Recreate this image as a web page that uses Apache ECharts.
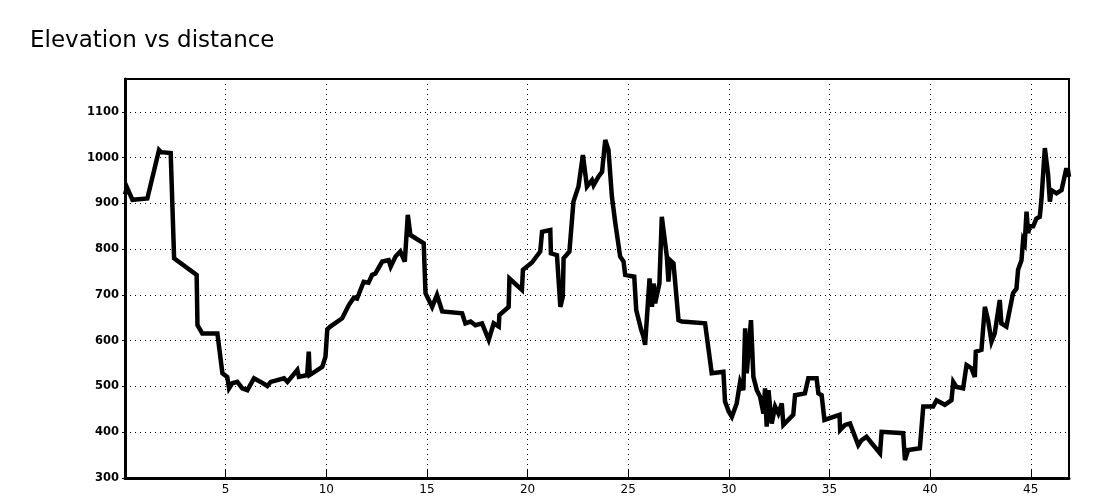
<!DOCTYPE html>
<html>
<head>
<meta charset="utf-8">
<script src="https://cdn.jsdelivr.net/npm/echarts@6/dist/echarts.min.js"></script>
<style>html,body{margin:0;padding:0;background:#fff}#c{width:1100px;height:500px}</style>
</head>
<body>
<div id="c"></div>
<script>
var title = 'Elevation vs distance';
var dist = [
  0, 0.1, 0.37, 1.11, 1.69, 1.8, 2.27, 2.44, 2.5, 3.56,
  3.6, 3.84, 4.59, 4.84, 5.08, 5.17, 5.33, 5.58, 5.83, 6.08,
  6.41, 6.74, 7.07, 7.24, 7.9, 8.07, 8.56, 8.64, 9.05, 9.13,
  9.18, 9.8, 9.96, 10.05, 10.2, 10.79, 10.87, 11.12, 11.37, 11.53,
  11.86, 12.1, 12.28, 12.44, 12.78, 13.1, 13.2, 13.44, 13.68, 13.9,
  13.95, 14.05, 14.18, 14.84, 14.93, 15.26, 15.5, 15.76, 16.75, 16.91,
  17.17, 17.41, 17.74, 18.07, 18.32, 18.57, 18.6, 19.06, 19.1, 19.72,
  19.77, 20.22, 20.63, 20.72, 21.13, 21.16, 21.46, 21.63, 21.75, 21.79,
  22.08, 22.28, 22.53, 22.75, 22.95, 23.2, 23.28, 23.53, 23.7, 23.86,
  24.02, 24.19, 24.36, 24.6, 24.77, 24.85, 25.3, 25.4, 25.65, 25.75,
  25.84, 26.06, 26.18, 26.26, 26.34, 26.55, 26.67, 26.75, 26.92, 27.0,
  27.08, 27.25, 27.5, 27.67, 28.82, 29.15, 29.73, 29.81, 30.0, 30.15,
  30.39, 30.56, 30.72, 30.81, 30.89, 31.1, 31.22, 31.39, 31.55, 31.72,
  31.8, 31.88, 31.97, 32.13, 32.3, 32.46, 32.63, 32.71, 33.2, 33.29,
  33.78, 33.95, 34.36, 34.45, 34.61, 34.75, 35.5, 35.53, 35.77, 36.02,
  36.43, 36.6, 36.84, 37.1, 37.51, 37.59, 38.66, 38.75, 38.91, 39.49,
  39.66, 40.15, 40.32, 40.73, 41.06, 41.15, 41.31, 41.64, 41.81, 42.05,
  42.22, 42.27, 42.55, 42.72, 42.88, 43.05, 43.21, 43.46, 43.54, 43.79,
  44.12, 44.29, 44.37, 44.54, 44.62, 44.7, 44.79, 44.87, 44.95, 45.12,
  45.28, 45.45, 45.53, 45.7, 45.86, 45.95, 46.03, 46.28, 46.53, 46.75,
  46.85, 46.9
];
var elev = [
  920, 935, 908, 911, 1017, 1012, 1010, 780, 778, 744,
  634, 616, 616, 529, 521, 496, 507, 510, 496, 492,
  518, 510, 501, 510, 518, 510, 536, 521, 525, 576,
  525, 543, 565, 625, 631, 649, 646, 678, 694, 692,
  729, 727, 744, 747, 773, 776, 762, 784, 795, 773,
  806, 875, 831, 813, 704, 674, 700, 664, 660, 638,
  642, 634, 638, 602, 638, 631, 656, 674, 736, 711,
  755, 771, 795, 838, 842, 791, 787, 674, 696, 780,
  795, 904, 937, 1006, 937, 951, 940, 959, 969, 1039,
  1017, 915, 857, 784, 773, 744, 740, 667, 623, 610,
  591, 736, 674, 725, 682, 725, 871, 875, 784, 729,
  776, 769, 645, 642, 638, 529, 532, 467, 445, 434,
  463, 510, 492, 627, 529, 645, 521, 492, 478, 441,
  496, 412, 492, 419, 456, 441, 463, 416, 438, 481,
  485, 518, 518, 485, 481, 427, 438, 405, 416, 419,
  372, 383, 390, 376, 354, 401, 398, 339, 361, 365,
  456, 456, 470, 460, 470, 510, 499, 496, 547, 540,
  521, 576, 580, 674, 645, 598, 616, 689, 638, 631,
  704, 714, 755, 776, 820, 813, 882, 835, 850, 850,
  867, 871, 908, 1021, 964, 904, 929, 922, 929, 973,
  973, 958
];
var data = dist.map(function (d, i) { return [d, elev[i]]; });

var chart = echarts.init(document.getElementById('c'), null, {renderer: 'canvas'});
chart.setOption({
  animation: false,
  backgroundColor: '#fff',
  title: {
    text: title, left: 25, top: 25,
    textStyle: {fontFamily: 'DejaVu Sans', fontSize: 23, fontWeight: 'normal', color: '#000'}
  },
  grid: {left: 125, right: 31, top: 79, bottom: 22, show: true, borderColor: '#000', borderWidth: 2, backgroundColor: 'transparent'},
  xAxis: {
    type: 'value', min: 0, max: 46.9, interval: 5,
    axisLine: {show: true, lineStyle: {color: '#000', width: 3}},
    axisTick: {show: true, inside: true, length: 8, lineStyle: {color: '#000', width: 1}},
    axisLabel: {showMinLabel: false, showMaxLabel: false, color: '#000', fontFamily: 'DejaVu Sans', fontSize: 12, margin: 6},
    splitLine: {show: true, lineStyle: {color: '#000', type: [1, 4], width: 1}}
  },
  yAxis: {
    type: 'value', min: 300, max: 1172, interval: 100,
    axisLine: {show: true, lineStyle: {color: '#000', width: 3}},
    axisTick: {show: true, inside: false, length: 3, lineStyle: {color: '#000'}},
    axisLabel: {showMaxLabel: false, color: '#000', fontFamily: 'DejaVu Sans', fontSize: 11.5, fontWeight: 'bold', margin: 6,
      formatter: function (v) { return String(v); }},
    splitLine: {show: true, lineStyle: {color: '#000', type: [1, 4], width: 1}}
  },
  series: [{
    type: 'line', data: data, showSymbol: false, symbol: 'none',
    lineStyle: {color: '#000', width: 4.5, join: 'miter', miterLimit: 4}
  }]
});
</script>
</body>
</html>
